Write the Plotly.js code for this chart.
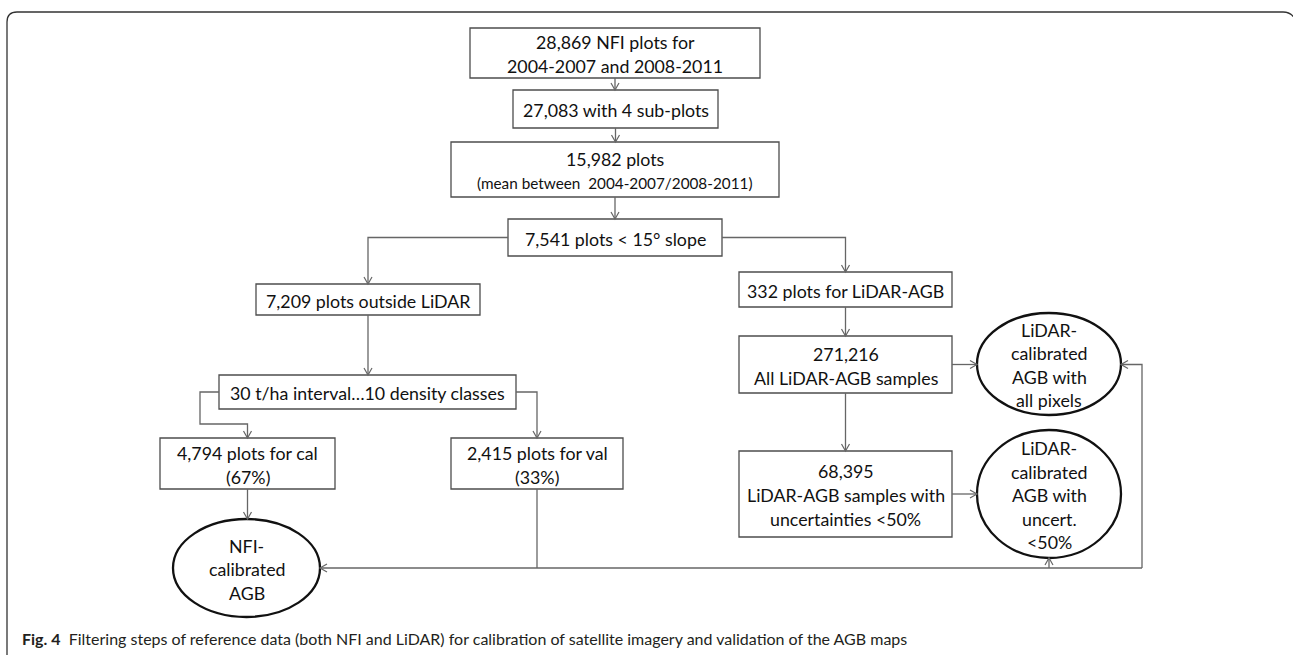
<!DOCTYPE html>
<html>
<head>
<meta charset="utf-8">
<script src="https://cdn.plot.ly/plotly-3.0.1.min.js"></script>
<style>
  html, body { margin: 0; padding: 0; background: #fff; }
  #graph { width: 1293px; height: 655px; }
</style>
</head>
<body>
<div id="graph"></div>
<script>
// node ids and their text lines
var nodeIds = ['b1', 'b2', 'b3', 'b4', 'b5', 'b6', 'b7', 'b8', 'e1', 'b9', 'b10', 'e2', 'b11', 'e3'];
var nodeLabels = [
  ['28,869 NFI plots for', '2004-2007 and 2008-2011'],
  ['27,083 with 4 sub-plots'],
  ['15,982 plots', '(mean between  2004-2007/2008-2011)'],
  ['7,541 plots < 15° slope'],
  ['7,209 plots outside LiDAR'],
  ['30 t/ha interval…10 density classes'],
  ['4,794 plots for cal', '(67%)'],
  ['2,415 plots for val', '(33%)'],
  ['NFI-', 'calibrated', 'AGB'],
  ['332 plots for LiDAR-AGB'],
  ['271,216', 'All LiDAR-AGB samples'],
  ['LiDAR-', 'calibrated', 'AGB with', 'all pixels'],
  ['68,395', 'LiDAR-AGB samples with', 'uncertainties <50%'],
  ['LiDAR-', 'calibrated', 'AGB with', 'uncert.', '<50%']
];
var captionBold = 'Fig. 4';
var captionText = 'Filtering steps of reference data (both NFI and LiDAR) for calibration of satellite imagery and validation of the AGB maps';

// box geometry in page pixels: [left, top, right, bottom]
var geom = {
  b1: [470, 28, 760, 78],
  b2: [513, 90, 718, 128],
  b3: [451, 142, 779, 197],
  b4: [508, 219, 722, 256],
  b5: [256, 284, 480, 315],
  b6: [219, 375, 516, 409],
  b7: [160, 438, 335, 489],
  b8: [451, 438, 623, 489],
  e1: [173, 519, 320, 617],
  b9: [739, 272, 952, 307],
  b10: [739, 336, 952, 393],
  e2: [977, 313, 1121, 415],
  b11: [739, 451, 952, 537],
  e3: [977, 430, 1121, 558]
};

function cx(id) { return (geom[id][0] + geom[id][2]) / 2; }
function cy(id) { return (geom[id][1] + geom[id][3]) / 2; }
function L(id) { return geom[id][0]; }
function T(id) { return geom[id][1]; }
function R(id) { return geom[id][2]; }
function B(id) { return geom[id][3]; }

var lineCol = '#666666';
var boxCol = '#4d4d4d';
var busY = 568;
var busX = 1142;

// connectors: list of points, last one gets an open arrow head (or none)
var links = [
  { pts: [[cx('b1'), B('b1')], [cx('b1'), T('b2')]], head: true },
  { pts: [[cx('b2'), B('b2')], [cx('b2'), T('b3')]], head: true },
  { pts: [[cx('b3'), B('b3')], [cx('b3'), T('b4')]], head: true },
  { pts: [[L('b4'), cy('b4')], [cx('b5'), cy('b4')], [cx('b5'), T('b5')]], head: true },
  { pts: [[R('b4'), cy('b4')], [cx('b9'), cy('b4')], [cx('b9'), T('b9')]], head: true },
  { pts: [[cx('b5'), B('b5')], [cx('b5'), T('b6')]], head: true },
  { pts: [[L('b6'), cy('b6')], [200, cy('b6')], [200, 424], [cx('b7'), 424], [cx('b7'), T('b7')]], head: true },
  { pts: [[R('b6'), cy('b6')], [cx('b8'), cy('b6')], [cx('b8'), T('b8')]], head: true },
  { pts: [[cx('b7'), B('b7')], [cx('b7'), T('e1')]], head: true },
  { pts: [[cx('b8'), B('b8')], [cx('b8'), busY]], head: false },
  { pts: [[busX, busY], [R('e1'), busY]], head: true },
  { pts: [[busX, busY], [busX, cy('b10')], [R('e2'), cy('b10')]], head: true },
  { pts: [[cx('e3'), busY], [cx('e3'), B('e3')]], head: true },
  { pts: [[cx('b9'), B('b9')], [cx('b9'), T('b10')]], head: true },
  { pts: [[R('b10'), cy('b10')], [L('e2'), cy('b10')]], head: true },
  { pts: [[cx('b10'), B('b10')], [cx('b10'), T('b11')]], head: true },
  { pts: [[R('b11'), cy('b11')], [L('e3'), cy('b11')]], head: true }
];

var shapes = [];
var annotations = [];

// outer rounded frame (bottom and right edge run off the page)
shapes.push({
  type: 'path', layer: 'above',
  path: 'M7,660 L7,22 Q7,12 17,12 L1283,12 Q1293,12 1296,22',
  line: { color: '#333333', width: 1.3 }
});

nodeIds.forEach(function (id, i) {
  var g = geom[id];
  var isEllipse = id.charAt(0) === 'e';
  shapes.push({
    type: isEllipse ? 'circle' : 'rect', layer: 'above',
    x0: g[0], y0: g[1], x1: g[2], y1: g[3],
    line: isEllipse ? { color: '#111111', width: 2.3 } : { color: boxCol, width: 1.3 },
    fillcolor: 'rgba(0,0,0,0)'
  });
  var lines = nodeLabels[i];
  var step = isEllipse ? 23.5 : 24;
  var y0 = cy(id) + 1 - step * (lines.length - 1) / 2;
  lines.forEach(function (txt, k) {
    var small = (id === 'b3' && k === 1);
    annotations.push({
      x: cx(id), y: y0 + k * step, xref: 'x', yref: 'y',
      text: txt, showarrow: false, xanchor: 'center', yanchor: 'middle',
      font: { family: 'Lato, sans-serif', size: small ? 15.3 : 17.8, color: '#111111' }
    });
  });
});

links.forEach(function (lk) {
  var p = lk.pts;
  var d = 'M' + p.map(function (q) { return q[0] + ',' + q[1]; }).join(' L');
  shapes.push({ type: 'path', layer: 'above', path: d, line: { color: lineCol, width: 1.3 } });
  if (lk.head) {
    var a = p[p.length - 2], b = p[p.length - 1];
    var dx = Math.sign(b[0] - a[0]), dy = Math.sign(b[1] - a[1]);
    var len = 7, half = 4;
    // two arms of an open V pointing along (dx,dy)
    var x1 = b[0] - dx * len - dy * half, y1 = b[1] - dy * len - dx * half;
    var x2 = b[0] - dx * len + dy * half, y2 = b[1] - dy * len + dx * half;
    shapes.push({
      type: 'path', layer: 'above',
      path: 'M' + x1 + ',' + y1 + ' L' + b[0] + ',' + b[1] + ' L' + x2 + ',' + y2,
      line: { color: lineCol, width: 1.2 }
    });
  }
});

// caption
annotations.push({
  x: 20, y: 638, xref: 'x', yref: 'y', xanchor: 'left', yanchor: 'middle',
  showarrow: false,
  text: '<b>' + captionBold + '</b>\u00a0\u00a0' + captionText,
  font: { family: 'Lato, sans-serif', size: 16, color: '#231f20' }
});

var layout = {
  width: 1293,
  height: 655,
  margin: { l: 0, r: 0, t: 0, b: 0 },
  paper_bgcolor: '#ffffff',
  plot_bgcolor: '#ffffff',
  showlegend: false,
  xaxis: { range: [0, 1293], visible: false, fixedrange: true },
  yaxis: { range: [655, 0], visible: false, fixedrange: true },
  shapes: shapes,
  annotations: annotations
};

Plotly.newPlot('graph', [], layout, { displayModeBar: false, staticPlot: true });
</script>
</body>
</html>
